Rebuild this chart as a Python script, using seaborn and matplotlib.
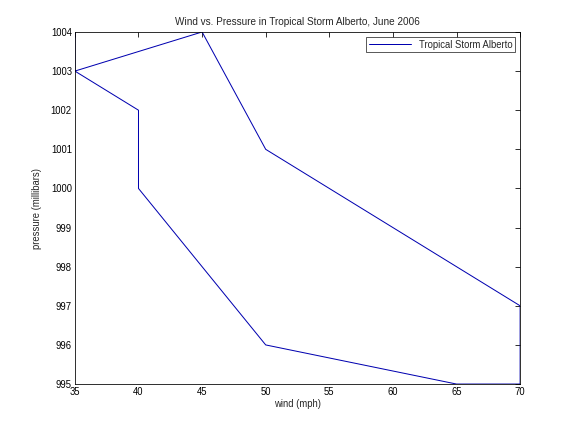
import matplotlib
matplotlib.use('Agg')
import matplotlib.pyplot as plt
import seaborn as sns
import pandas as pd

# Storm track values (time order)
wind = [35, 40, 40, 50, 65, 70, 70, 50, 45, 35, 35]
pressure = [1003, 1002, 1000, 996, 995, 995, 997, 1001, 1004, 1003, 1004]
xticks = [35, 40, 45, 50, 55, 60, 65, 70]
yticks = [995, 996, 997, 998, 999, 1000, 1001, 1002, 1003, 1004]

df = pd.DataFrame({'wind': wind, 'pressure': pressure})

sns.set_style('white')
plt.rcParams['font.family'] = ['Liberation Sans', 'DejaVu Sans']

fig = plt.figure(figsize=(8, 6), dpi=72)
ax = fig.add_axes([0.13, 0.111, 0.773, 0.815])

sns.lineplot(data=df, x='wind', y='pressure', sort=False, estimator=None,
             color='#0000b0', linewidth=1, label='Tropical Storm Alberto', ax=ax)

ax.set_xlim(35, 70)
ax.set_ylim(995, 1004)
ax.set_xticks(xticks)
ax.set_yticks(yticks)
ax.tick_params(direction='in', top=True, right=True, length=5, labelsize=9.5,
               width=0.8, colors='black', pad=3)
for s in ax.spines.values():
    s.set_color('black')
    s.set_linewidth(0.8)

ax.set_title('Wind vs. Pressure in Tropical Storm Alberto, June 2006', fontsize=10, pad=7)
ax.set_xlabel('wind (mph)', fontsize=9.5, labelpad=2)
ax.set_ylabel('pressure (millibars)', fontsize=9.5, labelpad=9)
leg = ax.legend(loc='upper right', fontsize=9.5, frameon=True, fancybox=False,
                edgecolor='black', handlelength=4.5, borderaxespad=0.5,
                borderpad=0.3)
leg.get_frame().set_linewidth(0.8)

fig.savefig('out.png', dpi=72, facecolor='white')
